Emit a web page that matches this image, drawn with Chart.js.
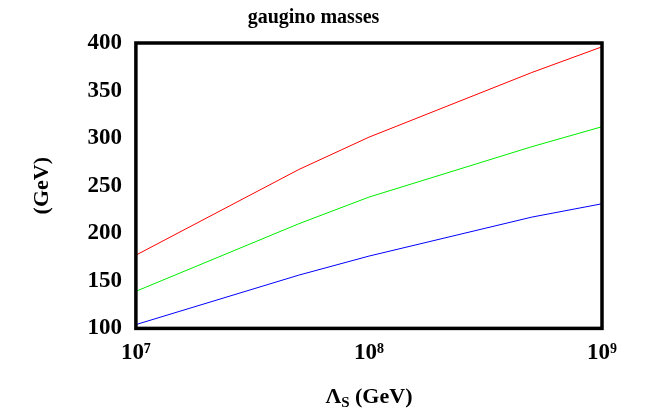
<!DOCTYPE html>
<html><head><script src="https://cdn.jsdelivr.net/npm/chart.js@4"></script>
<style>body{margin:0;background:#fff}</style></head><body>
<div style="width:664px;height:411px"><canvas id="c"></canvas></div>
<script>
const xs=[1e7,5e7,1e8,5e8,1e9];
const red=[177,267,301,369,396];
const green=[139,210,238,291,312];
const blue=[104,156,176,217,231];
const yTicks=[100,150,200,250,300,350,400];
const sup={7:'⁷',8:'⁸',9:'⁹'};
const F="'Liberation Serif'";
const mk=(d,c)=>({data:xs.map((x,i)=>({x,y:d[i]})),borderColor:c,borderWidth:1,pointRadius:0,fill:false,tension:0});
const border={id:'b',afterDraw(ch){const a=ch.chartArea,g=ch.ctx;g.save();g.lineWidth=3.5;g.strokeStyle='#000';g.strokeRect(a.left,a.top,a.right-a.left,a.bottom-a.top);
g.fillStyle='#000';g.textBaseline='alphabetic';g.textAlign='left';
const cx=(a.left+a.right)/2;const t1='Λ',t2=' (GeV)';g.font="bold 22px "+F;const w1=g.measureText(t1).width;g.font="bold 15px "+F;const ws=g.measureText('S').width;g.font="bold 22px "+F;const w2=g.measureText(t2).width;
let x0=cx-(w1+ws+w2)/2;const yb=403;g.fillText(t1,x0,yb);g.font="bold 15px "+F;g.fillText('S',x0+w1,yb+4);g.font="bold 22px "+F;g.fillText(t2,x0+w1+ws,yb);g.restore();}};
new Chart(document.getElementById('c'),{type:'line',data:{datasets:[mk(red,'#ff0000'),mk(green,'#00ee00'),mk(blue,'#0000ff')]},
options:{responsive:true,maintainAspectRatio:false,animation:false,layout:{padding:{left:25,right:62,top:0,bottom:41}},
plugins:{legend:{display:false},tooltip:{enabled:false},title:{display:true,text:'gaugino masses',color:'#000',font:{family:F,size:20,weight:'bold'},padding:{top:6,bottom:13}}},
scales:{x:{type:'logarithmic',min:1e7,max:1e9,afterBuildTicks:s=>{s.ticks=[{value:1e7},{value:1e8},{value:1e9}]},
ticks:{color:'#000',font:{family:F,size:23,weight:'bold'},maxRotation:0,callback:v=>'10'+sup[Math.round(Math.log10(v))]},grid:{display:false},border:{display:false}},
y:{min:100,max:400,afterBuildTicks:s=>{s.ticks=yTicks.map(v=>({value:v}))},ticks:{color:'#000',font:{family:F,size:23,weight:'bold'},padding:6},
title:{display:true,text:'(GeV)',color:'#000',font:{family:F,size:22,weight:'bold'},padding:{bottom:26}},grid:{display:false},border:{display:false}}}},plugins:[border]});
</script></body></html>
